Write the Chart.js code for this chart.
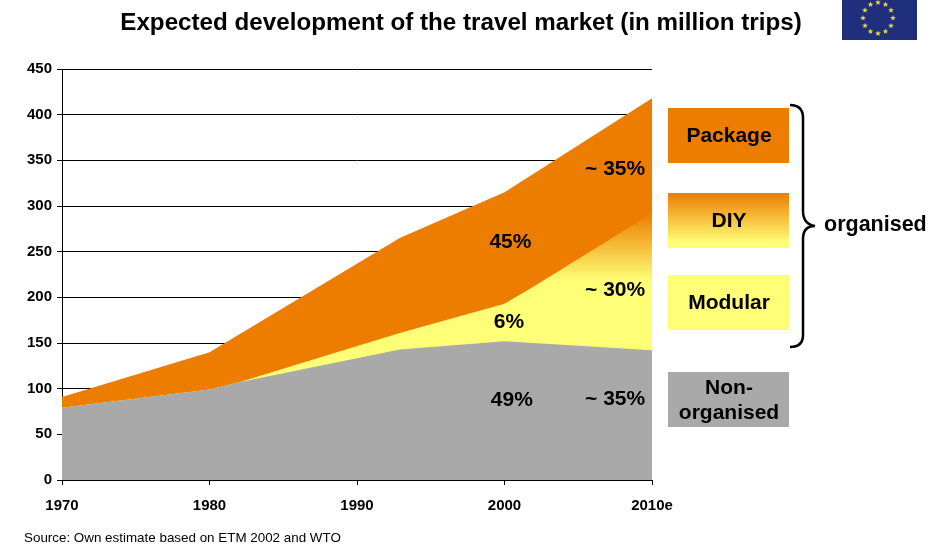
<!DOCTYPE html>
<html>
<head>
<meta charset="utf-8">
<style>
html, body { margin: 0; padding: 0; background: #fff; }
#wrap { width: 936px; height: 551px; }
</style>
<script src="https://cdn.jsdelivr.net/npm/chart.js@4"></script>
</head>
<body>
<div id="wrap"><canvas id="marketChart" width="936" height="551"></canvas></div>
<script>
const yearTicks = ['1970', '1980', '1990', '2000', '2010e']

const totalYears = [1970, 1980, 1992.9, 2000, 2010]
const totalTrips = [91, 140, 265, 315, 418]

const diyYears = [1970, 1980, 1982, 1992.9, 2000, 2001.9, 2010]
const diyTrips = [79, 99, 107, 161, 193, 211, 292]

const nonOrgYears = [1970, 1980, 1982, 1992.9, 2000, 2010]
const nonOrgTrips = [79, 99, 107, 143, 152, 142]

const shareTexts = ['45%', '6%', '49%', '~ 35%', '~ 30%', '~ 35%']
const shareYears = [2000.4, 2000.3, 2000.5, 2007.5, 2007.5, 2007.5]
const shareTrips = [260, 173, 87, 340, 208, 88]

const legendNames = [['Package'], ['DIY'], ['Modular'], ['Non-', 'organised']]

const orange = '#ed7d00'
const yellow = '#ffff77'
const grey = '#a9a9a9'

function points(xs, ys) {
    return xs.map((x, i) => ({ x: x, y: ys[i] }))
}

function fadeFill(context) {
    let { ctx, scales, chartArea } = context.chart
    if (!chartArea) return yellow
    let from = scales.y.getPixelForValue(292)
    let to = scales.y.getPixelForValue(218)
    if (!isFinite(from) || !isFinite(to)) return yellow
    let g = ctx.createLinearGradient(0, from, 0, to)
    g.addColorStop(0, orange)
    g.addColorStop(1, yellow)
    return g
}

function star(ctx, cx, cy, r) {
    ctx.beginPath()
    for (let k = 0; k < 10; k++) {
        let rad = k % 2 ? r * 0.42 : r
        let a = k * Math.PI / 5
        ctx.lineTo(cx + rad * Math.sin(a), cy - rad * Math.cos(a))
    }
    ctx.closePath()
    ctx.fill()
}

const extras = {
    id: 'extras',
    afterDraw(chart) {
        let { ctx, scales } = chart
        ctx.save()
        ctx.fillStyle = '#000'
        ctx.textAlign = 'center'
        ctx.textBaseline = 'middle'

        ctx.font = 'bold 24.2px "Liberation Sans"'
        ctx.fillText('Expected development of the travel market (in million trips)', 461, 23)

        ctx.font = 'bold 21px "Liberation Sans"'
        shareTexts.forEach((t, i) => {
            ctx.fillText(t, scales.x.getPixelForValue(shareYears[i]), scales.y.getPixelForValue(shareTrips[i]))
        })

        // legend boxes on the right
        let tops = [108, 193, 275, 372]
        let fills = [orange, null, yellow, grey]
        legendNames.forEach((lines, i) => {
            let top = tops[i]
            if (fills[i]) {
                ctx.fillStyle = fills[i]
            } else {
                let g = ctx.createLinearGradient(0, top, 0, top + 50)
                g.addColorStop(0, orange)
                g.addColorStop(1, yellow)
                ctx.fillStyle = g
            }
            ctx.fillRect(668, top, 121, 55)
            ctx.fillStyle = '#000'
            let first = top + 28 - (lines.length - 1) * 12
            lines.forEach((line, j) => ctx.fillText(line, 729, first + j * 25))
        })

        // brace
        ctx.beginPath()
        ctx.moveTo(790, 105)
        ctx.quadraticCurveTo(803, 105, 803, 118)
        ctx.lineTo(803, 211)
        ctx.quadraticCurveTo(803, 224, 815, 226)
        ctx.quadraticCurveTo(803, 226, 803, 239)
        ctx.lineTo(803, 335)
        ctx.quadraticCurveTo(803, 347, 790, 347)
        ctx.lineWidth = 2.5
        ctx.strokeStyle = '#000'
        ctx.stroke()
        ctx.textAlign = 'left'
        ctx.font = 'bold 21.5px "Liberation Sans"'
        ctx.fillText('organised', 824, 225)

        ctx.font = '13.4px "Liberation Sans"'
        ctx.fillText('Source: Own estimate based on ETM 2002 and WTO', 24, 538)

        // EU flag
        ctx.fillStyle = '#1f2f7e'
        ctx.fillRect(842, 0, 75, 40)
        ctx.fillStyle = '#e8d83a'
        for (let i = 0; i < 12; i++) {
            let a = i * Math.PI / 6
            star(ctx, 878 + 15 * Math.sin(a), 18 - 15.5 * Math.cos(a), 3)
        }
        ctx.restore()
    }
}

let ctx = document.getElementById('marketChart').getContext('2d')
new Chart(ctx, {
    type: 'line',
    data: {
        datasets: [
            { label: 'Non-organised', data: points(nonOrgYears, nonOrgTrips), backgroundColor: grey, fill: 'origin', order: 1 },
            { label: 'DIY / Modular', data: points(diyYears, diyTrips), backgroundColor: fadeFill, fill: 'origin', order: 2 },
            { label: 'Package', data: points(totalYears, totalTrips), backgroundColor: orange, fill: 'origin', order: 3 }
        ]
    },
    plugins: [extras],
    options: {
        responsive: false,
        animation: false,
        elements: { point: { radius: 0 }, line: { borderWidth: 0, tension: 0 } },
        layout: { padding: { top: 69, right: 284 } },
        plugins: { legend: { display: false }, tooltip: { enabled: false } },
        scales: {
            x: {
                type: 'linear',
                min: 1970,
                max: 2010,
                afterFit(scale) { scale.height = 71 },
                grid: { drawOnChartArea: false, color: '#000', tickLength: 5 },
                border: { color: '#000', width: 1 },
                ticks: {
                    stepSize: 10,
                    color: '#000',
                    maxRotation: 0,
                    padding: 12,
                    font: { family: 'Liberation Sans', size: 15, weight: 'bold' },
                    callback: (v, i) => yearTicks[i]
                }
            },
            y: {
                min: 0,
                max: 450,
                afterFit(scale) { scale.width = 62 },
                grid: { color: '#000', lineWidth: 1, tickLength: 5 },
                border: { color: '#000', width: 1 },
                ticks: {
                    stepSize: 50,
                    color: '#000',
                    padding: 5,
                    font: { family: 'Liberation Sans', size: 15, weight: 'bold' }
                }
            }
        }
    }
})
</script>
</body>
</html>
